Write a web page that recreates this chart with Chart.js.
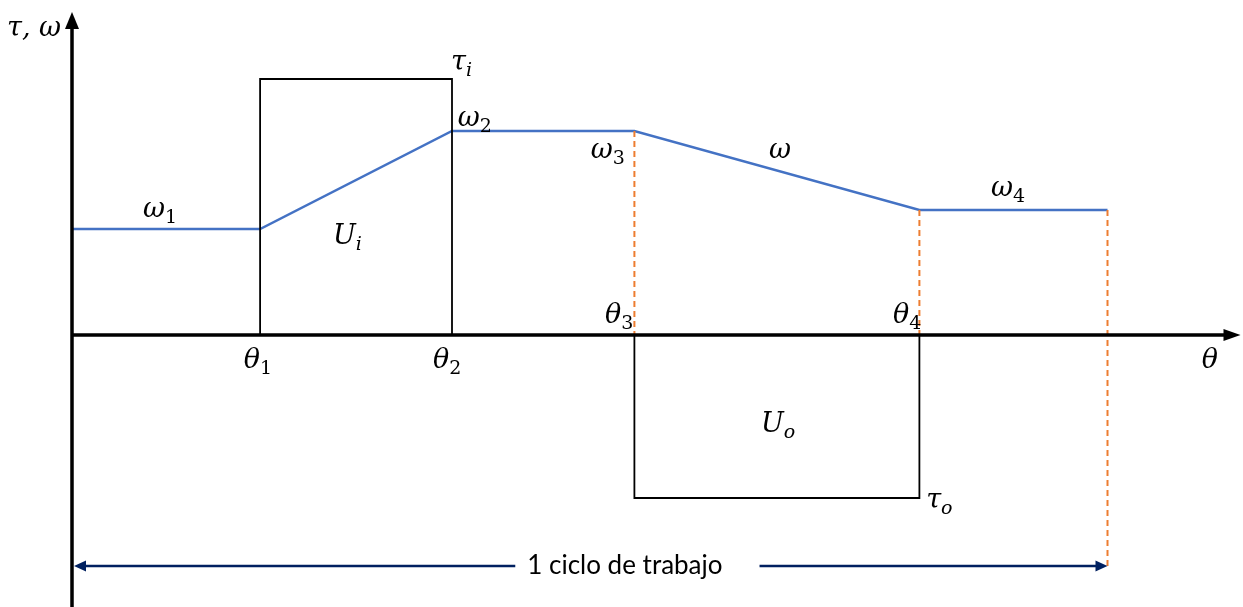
<!DOCTYPE html>
<html>
<head>
<meta charset="utf-8">
<script src="https://cdn.jsdelivr.net/npm/chart.js@4/dist/chart.umd.min.js"></script>
<style>
  html, body { margin:0; padding:0; background:#fff; }
  #wrap { width:1243px; height:607px; }
</style>
</head>
<body>
<div id="wrap"><canvas id="diagrama"></canvas></div>
<script>
// Posiciones angulares (theta) y valores de velocidad / par del ciclo
const thetas = [0, 0.99, 2.0, 2.96, 4.46, 5.45];   // 0, θ1, θ2, θ3, θ4, fin del ciclo
const omega  = [1.06, 1.06, 2.04, 2.04, 1.25, 1.25]; // ω en cada theta
const tauIn  = 2.56;    // τi entre θ1 y θ2
const tauOut = -1.63;   // τo entre θ3 y θ4
const cicloY = -2.31;   // altura de la flecha "1 ciclo de trabajo"
const cicloTexto = '1 ciclo de trabajo';

// Etiquetas: [letra, subindice, x, y]
const etiquetas = [
  ['τ, ω', '', -0.20, 3.06],
  ['ω', '1', 0.463, 1.25],
  ['U', 'i', 1.45, 0.98],
  ['τ', 'i', 2.05, 2.72],
  ['ω', '2', 2.12, 2.16],
  ['ω', '3', 2.82, 1.84],
  ['ω', '', 3.726, 1.84],
  ['ω', '4', 4.926, 1.46],
  ['θ', '1', 0.979, -0.26],
  ['θ', '2', 1.974, -0.26],
  ['θ', '3', 2.88, 0.19],
  ['θ', '4', 4.395, 0.19],
  ['θ', '', 5.989, -0.26],
  ['U', 'o', 3.716, -0.90],
  ['τ', 'o', 4.565, -1.66]
];

const pts = (xs, ys) => xs.map((x, i) => ({ x, y: ys[i] }));
const AZUL = '#4472C4', NARANJA = '#ED7D31', MARINO = '#002060';

const linea = (data, color, width, dash) => ({
  data, borderColor: color, borderWidth: width, borderDash: dash || [],
  showLine: true, pointRadius: 0, fill: false, tension: 0
});

const datasets = [
  // rectangulos de par de entrada y salida
  linea(pts([thetas[1], thetas[1], thetas[2], thetas[2]], [0, tauIn, tauIn, 0]), '#000', 1.8),
  linea(pts([thetas[3], thetas[3], thetas[4], thetas[4]], [0, tauOut, tauOut, 0]), '#000', 1.8),
  // lineas guia punteadas
  linea(pts([thetas[3], thetas[3]], [omega[3], 0]), NARANJA, 2, [6, 4]),
  linea(pts([thetas[4], thetas[4]], [omega[4], 0]), NARANJA, 2, [6, 4]),
  linea(pts([thetas[5], thetas[5]], [omega[5], cicloY]), NARANJA, 2, [6, 4]),
  // velocidad angular
  linea(pts(thetas, omega), AZUL, 2.5)
];

// Ejes con flechas, flecha del ciclo y etiquetas
const dibujoExtra = {
  id: 'dibujoExtra',
  afterDatasetsDraw(chart) {
    const { ctx, scales: { x, y } } = chart;
    const px = v => x.getPixelForValue(v), py = v => y.getPixelForValue(v);
    const flecha = (tx, ty, dx, dy, len, half, color) => {
      ctx.fillStyle = color;
      ctx.beginPath();
      ctx.moveTo(tx, ty);
      ctx.lineTo(tx - dx * len - dy * half, ty - dy * len + dx * half);
      ctx.lineTo(tx - dx * len + dy * half, ty - dy * len - dx * half);
      ctx.closePath();
      ctx.fill();
    };
    ctx.save();
    // ejes
    const x0 = px(0), y0 = py(0);
    ctx.strokeStyle = '#000';
    ctx.lineWidth = 3.5;
    ctx.beginPath();
    ctx.moveTo(x0, chart.height); ctx.lineTo(x0, py(3.1));
    ctx.moveTo(x0 - 1, y0); ctx.lineTo(px(6.08), y0);
    ctx.stroke();
    flecha(x0, py(3.23), 0, -1, 17, 7, '#000');
    flecha(px(6.15), y0, 1, 0, 17, 6, '#000');

    // flecha del ciclo con hueco para el texto
    const yc = py(cicloY), xa = px(thetas[0]) + 2, xb = px(thetas[5]);
    ctx.font = '26px Lato';
    const tw = ctx.measureText(cicloTexto).width;
    const xm = px(2.91);
    ctx.strokeStyle = MARINO;
    ctx.lineWidth = 2.5;
    ctx.beginPath();
    ctx.moveTo(xa + 8, yc); ctx.lineTo(xm - tw / 2 - 12, yc);
    ctx.moveTo(xm + tw / 2 + 37, yc); ctx.lineTo(xb - 8, yc);
    ctx.stroke();
    flecha(xa, yc, -1, 0, 12, 5.5, MARINO);
    flecha(xb, yc, 1, 0, 12, 5.5, MARINO);
    ctx.fillStyle = '#000';
    ctx.textBaseline = 'middle';
    ctx.textAlign = 'left';
    ctx.fillText(cicloTexto, xm - tw / 2, yc);

    // etiquetas matematicas
    const fMain = 'italic 27px "DejaVu Serif"';
    etiquetas.forEach(([letra, sub, vx, vy]) => {
      const cx = px(vx), cy = py(vy);
      const subItal = /[a-z]/.test(sub);
      const fSub = (subItal ? 'italic ' : '') + '19px "DejaVu Serif"';
      ctx.font = fMain;
      const w1 = ctx.measureText(letra).width;
      ctx.font = fSub;
      const w2 = sub ? ctx.measureText(sub).width : 0;
      const left = cx - (w1 + w2) / 2;
      ctx.font = fMain;
      ctx.fillText(letra, left, cy);
      if (sub) {
        ctx.font = fSub;
        ctx.fillText(sub, left + w1, cy + 8);
      }
    });
    ctx.restore();
  }
};

new Chart(document.getElementById('diagrama'), {
  type: 'scatter',
  data: { datasets },
  options: {
    responsive: true,
    maintainAspectRatio: false,
    animation: false,
    layout: { padding: 0 },
    plugins: { legend: { display: false }, tooltip: { enabled: false } },
    scales: {
      x: { type: 'linear', display: false, min: -72 / 190, max: (1243 - 72) / 190 },
      y: { type: 'linear', display: false, min: -2.72, max: 3.35 }
    }
  },
  plugins: [dibujoExtra]
});
</script>
</body>
</html>
